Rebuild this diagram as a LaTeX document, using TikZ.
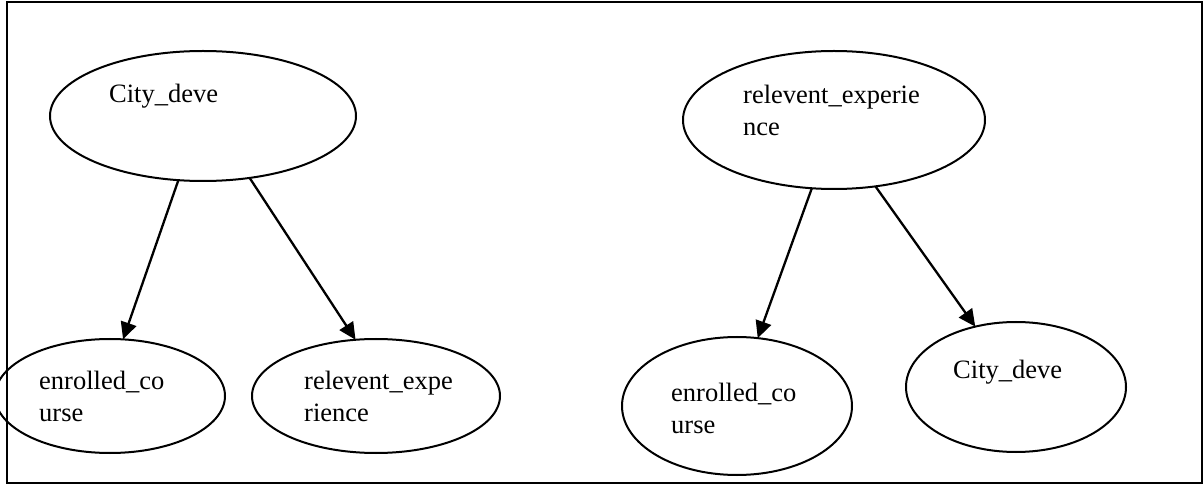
\documentclass[tikz,border=0pt]{standalone}
\usepackage{fontspec}
\setmainfont{Liberation Serif}
\usetikzlibrary{shapes.geometric,arrows.meta}
\tikzset{
  oval/.style={draw, ellipse, line width=2pt, inner sep=0pt, outer sep=0pt},
  lbl/.style={anchor=base west, inner sep=0pt, align=left,
    font=\fontsize{26.5}{32}\selectfont},
  arr/.style={line width=2.3pt, -{Triangle[length=17pt,width=16pt]}},
}
\begin{document}
\begin{tikzpicture}[x=1pt,y=-1pt]
\useasboundingbox (0,0) rectangle (1203,486);
\fill[white] (0,0) rectangle (1203,486);
\draw[line width=2pt] (7,2) rectangle (1202,483);
% left tree
\node[oval, minimum width=306pt, minimum height=130pt] (a) at (203,116) {};
\node[oval, minimum width=230pt, minimum height=114pt] (b) at (110,396) {};
\node[oval, minimum width=248pt, minimum height=114pt] (c) at (376,396) {};
\node[lbl] (ta) at (109,103) {City\_deve};
\node[lbl] (tb) at (39,421) {enrolled\_co\\urse};
\node[lbl] (tc) at (304,421) {relevent\_expe\\rience};
\draw[arr] (a.249) -- (b.77);
\draw[arr] (a.307) -- (c.110);
% right tree
\node[oval, minimum width=302pt, minimum height=138pt] (d) at (834,120) {};
\node[oval, minimum width=230pt, minimum height=138pt] (e) at (737,406) {};
\node[oval, minimum width=220pt, minimum height=130pt] (f) at (1016,387) {};
\node[lbl] (td) at (743,136) {relevent\_experie\\nce};
\node[lbl] (te) at (671,433) {enrolled\_co\\urse};
\node[lbl] (tf) at (953,379) {City\_deve};
\draw[arr] (d.252) -- (e.73);
\draw[arr] (d.302) -- (f.124);
\end{tikzpicture}
\end{document}
